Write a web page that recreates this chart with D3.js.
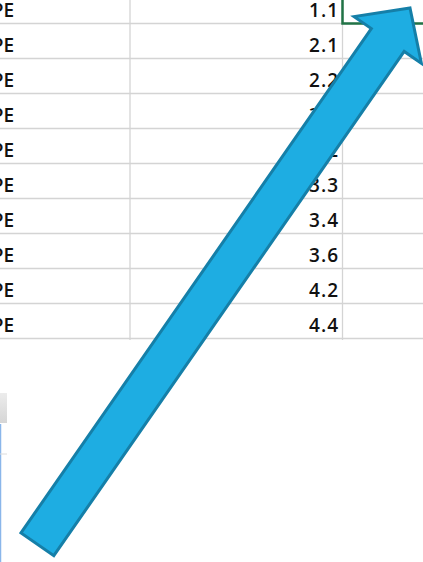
<!DOCTYPE html>
<html>
<head>
<meta charset="utf-8">
<script src="https://cdn.jsdelivr.net/npm/d3@7"></script>
<style>
  html, body { margin: 0; padding: 0; background: #fff; overflow: hidden; }
  svg { display: block; }
</style>
</head>
<body>
<svg id="sheet"></svg>
<script>
// Spreadsheet fragment: type label column + value column
const labels = ["TYPE", "TYPE", "TYPE", "TYPE", "TYPE", "TYPE", "TYPE", "TYPE", "TYPE", "TYPE"];
const values = [1.1, 2.1, 2.2, 3.1, 3.2, 3.3, 3.4, 3.6, 4.2, 4.4];
const columnEdges = [130, 342.5];

const width = 423;
const height = 562;
const cellFont = "'Open Sans', 'Noto Sans', sans-serif";

const svg = d3.select("#sheet")
    .attr("width", width)
    .attr("height", height);

// row positions (first row partly scrolled off the top)
const y = d3.scaleBand()
    .domain(d3.range(values.length))
    .range([-12, -12 + 35 * values.length])
    .paddingInner(0);

const rowH = y.bandwidth();

// grid lines
const grid = svg.append("g").attr("stroke", "#d4d4d4").attr("stroke-width", 1.3);
grid.selectAll("line.h")
    .data(d3.range(values.length))
    .join("line")
    .attr("class", "h")
    .attr("x1", 0).attr("x2", width)
    .attr("y1", d => y(d) + rowH + 0.5)
    .attr("y2", d => y(d) + rowH + 0.5);
grid.selectAll("line.v")
    .data(columnEdges)
    .join("line")
    .attr("class", "v")
    .attr("x1", d => d).attr("x2", d => d)
    .attr("y1", 0)
    .attr("y2", y(values.length - 1) + rowH + 2);

// label column (cut off at left edge)
svg.append("g")
    .selectAll("text")
    .data(labels)
    .join("text")
    .attr("x", 14)
    .attr("y", (d, i) => y(i) + 28.5)
    .attr("text-anchor", "end")
    .attr("font-family", cellFont)
    .attr("font-size", 19)
    .attr("font-weight", 600)
    .attr("fill", "#111")
    .text(d => d);

// value column, right aligned
svg.append("g")
    .selectAll("text")
    .data(values)
    .join("text")
    .attr("x", columnEdges[1] - 3.5)
    .attr("y", (d, i) => y(i) + 28.5)
    .attr("text-anchor", "end")
    .attr("font-family", cellFont)
    .attr("font-size", 19)
    .attr("font-weight", 600)
    .attr("letter-spacing", 1)
    .attr("fill", "#111")
    .text(d => d.toFixed(1));

// active cell selection (top right)
svg.append("path")
    .attr("d", `M${columnEdges[1]},-5 L${columnEdges[1]},${y(0) + rowH + 0.5} L${width + 5},${y(0) + rowH + 0.5}`)
    .attr("fill", "none")
    .attr("stroke", "#217346")
    .attr("stroke-width", 2.5);

// bits of another window at bottom left
const gGrad = svg.append("defs").append("linearGradient")
    .attr("id", "tab").attr("x1", 0).attr("y1", 0).attr("x2", 0).attr("y2", 1);
gGrad.append("stop").attr("offset", "0%").attr("stop-color", "#ececec");
gGrad.append("stop").attr("offset", "100%").attr("stop-color", "#d6d6d6");
svg.append("rect")
    .attr("x", 0).attr("y", 393).attr("width", 7).attr("height", 30)
    .attr("fill", "url(#tab)");
svg.append("line")
    .attr("x1", 0.5).attr("x2", 0.5).attr("y1", 424).attr("y2", height)
    .attr("stroke", "#8ab6ea").attr("stroke-width", 1.5);
svg.append("line")
    .attr("x1", 0).attr("x2", 7).attr("y1", 454).attr("y2", 454)
    .attr("stroke", "#dcdcdc").attr("stroke-width", 1);

// big annotation arrow
const arrow = { tail: [37.4, 544.3], tip: [410, 8], shaft: 40, headW: 82, headL: 39 };
function arrowPath(a) {
    const dx = a.tip[0] - a.tail[0], dy = a.tip[1] - a.tail[1];
    const len = Math.hypot(dx, dy);
    const ux = dx / len, uy = dy / len;
    const px = -uy, py = ux;
    const base = [a.tip[0] - ux * a.headL, a.tip[1] - uy * a.headL];
    const s = a.shaft / 2, h = a.headW / 2;
    const pts = [
        [a.tail[0] + px * s, a.tail[1] + py * s],
        [base[0] + px * s, base[1] + py * s],
        [base[0] + px * h, base[1] + py * h],
        a.tip,
        [base[0] - px * h, base[1] - py * h],
        [base[0] - px * s, base[1] - py * s],
        [a.tail[0] - px * s, a.tail[1] - py * s]
    ];
    return d3.line()(pts) + "Z";
}
svg.append("path")
    .attr("d", arrowPath(arrow))
    .attr("fill", "#1eade2")
    .attr("stroke", "#157fa8")
    .attr("stroke-width", 3)
    .attr("stroke-linejoin", "miter");
</script>
</body>
</html>
